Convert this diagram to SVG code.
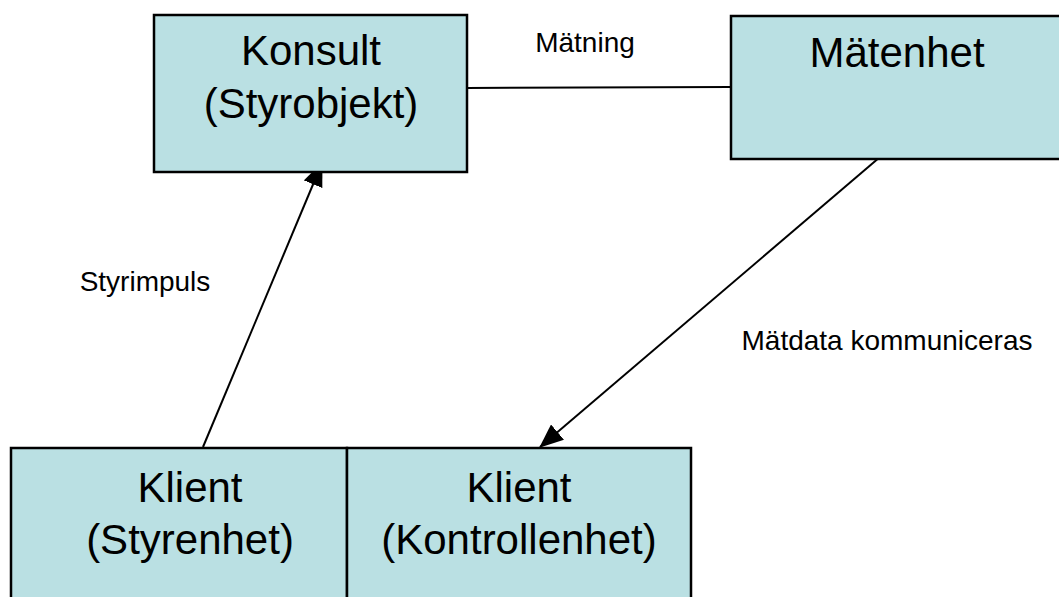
<svg xmlns="http://www.w3.org/2000/svg" width="1059" height="597" viewBox="0 0 1059 597">
  <defs>
    <marker id="arrowBig" viewBox="0 0 24 20" markerWidth="24" markerHeight="20" refX="23" refY="10" orient="auto" markerUnits="userSpaceOnUse">
      <path d="M0,0 L24,10 L0,20 Z" fill="#000"/>
    </marker>
  </defs>
  <style>
    .box { fill: #bae0e3; stroke: #000; stroke-width: 2.5; }
    .big { font-family: "Liberation Sans", Arial, sans-serif; font-size: 42px; fill: #000; text-anchor: middle; }
    .small { font-family: "Liberation Sans", Arial, sans-serif; font-size: 28px; fill: #000; text-anchor: middle; }
    .conn { stroke: #000; stroke-width: 2; fill: none; }
  </style>
  <rect width="1059" height="597" fill="#fff"/>
  <g id="connectors">
    <line class="conn" x1="467" y1="88" x2="731" y2="87"/>
    <line class="conn" x1="203" y1="447" x2="322" y2="163" marker-end="url(#arrowBig)"/>
    <line class="conn" x1="880" y1="157" x2="540" y2="447" marker-end="url(#arrowBig)"/>
    <text class="small" x="585" y="52">Mätning</text>
    <text class="small" x="145" y="291">Styrimpuls</text>
    <text class="small" x="887" y="350">Mätdata kommuniceras</text>
  </g>
  <g id="konsult">
    <rect class="box" x="154" y="15" width="313" height="157"/>
    <text class="big" x="311" y="65">Konsult</text>
    <text class="big" x="311" y="118">(Styrobjekt)</text>
  </g>
  <g id="matenhet">
    <rect class="box" x="731" y="16" width="340" height="143"/>
    <text class="big" x="897" y="67">Mätenhet</text>
  </g>
  <g id="klient-styrenhet">
    <rect class="box" x="11" y="448" width="336" height="160"/>
    <text class="big" x="190" y="502">Klient</text>
    <text class="big" x="190" y="554">(Styrenhet)</text>
  </g>
  <g id="klient-kontrollenhet">
    <rect class="box" x="347" y="448" width="344" height="160"/>
    <text class="big" x="519" y="502">Klient</text>
    <text class="big" x="519" y="554">(Kontrollenhet)</text>
  </g>
</svg>
